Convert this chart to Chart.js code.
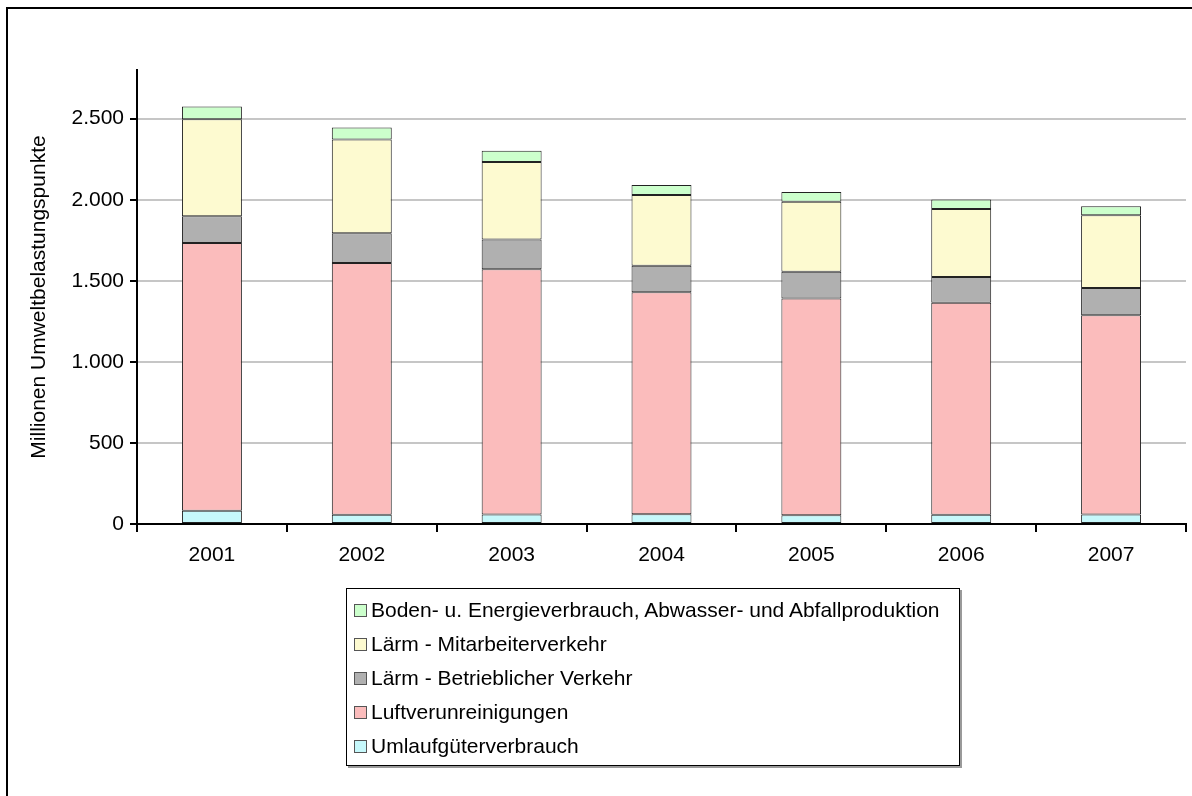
<!DOCTYPE html>
<html>
<head>
<meta charset="utf-8">
<script src="https://cdn.jsdelivr.net/npm/chart.js@4/dist/chart.umd.min.js"></script>
<style>
  html, body { margin: 0; padding: 0; background: #fff; overflow: hidden; }
  body { width: 1192px; height: 796px; position: relative; font-family: "Liberation Sans", Arial, sans-serif; }
  .frame { position: absolute; left: 6px; top: 7px; width: 1300px; height: 900px; border: 2px solid #000; }
  .chart-wrap { position: absolute; left: 0; top: 0; width: 1192px; height: 796px; }
  .legend-box {
    position: absolute; left: 346px; top: 588px; width: 612px; height: 176px;
    border: 1px solid #000; background: #fff; box-shadow: 2px 2px 0 #9a9a9a;
  }
  .legend-row { position: absolute; left: 7px; height: 24px; display: flex; align-items: center; font-size: 21px; color: #000; white-space: nowrap; }
  .legend-swatch { width: 11px; height: 11px; border: 1px solid #555; margin-right: 4px; }
</style>
</head>
<body>
<div class="frame"></div>
<div class="chart-wrap"><canvas id="chart" width="1192" height="796"></canvas></div>
<div class="legend-box" id="legend"></div>
<script>
const years = ['2001', '2002', '2003', '2004', '2005', '2006', '2007'];

// Millionen Umweltbelastungspunkte
const umlaufgueter = [81, 57, 58, 60, 54, 57, 58];
const luft = [1652, 1553, 1513, 1370, 1336, 1307, 1230];
const laermBetrieb = [165, 183, 183, 162, 165, 159, 168];
const laermMitarbeiter = [599, 579, 478, 437, 433, 420, 448];
const bodenEnergie = [78, 74, 70, 62, 59, 59, 55];

const yTicks = [0, 500, 1000, 1500, 2000, 2500];

const series = [
  { label: 'Umlaufgüterverbrauch', data: umlaufgueter, color: '#c6f8fb' },
  { label: 'Luftverunreinigungen', data: luft, color: '#fbbcbc' },
  { label: 'Lärm - Betrieblicher Verkehr', data: laermBetrieb, color: '#b0b0b0' },
  { label: 'Lärm - Mitarbeiterverkehr', data: laermMitarbeiter, color: '#fdfad0' },
  { label: 'Boden- u. Energieverbrauch, Abwasser- und Abfallproduktion', data: bodenEnergie, color: '#ccffcc' },
];

function formatDe(v) {
  return String(v).replace(/\B(?=(\d{3})+(?!\d))/g, '.');
}

const font = { family: '"Liberation Sans", Arial, sans-serif', size: 21 };

new Chart(document.getElementById('chart'), {
  type: 'bar',
  data: {
    labels: years,
    datasets: series.map((s) => ({
      label: s.label,
      data: s.data,
      backgroundColor: s.color,
      borderColor: '#222',
      borderWidth: 1,
      borderSkipped: false,
      categoryPercentage: 1,
      barPercentage: 0.4,
    })),
  },
  options: {
    responsive: false,
    animation: false,
    layout: { padding: { top: 70, right: 6, left: 0, bottom: 0 } },
    plugins: {
      legend: { display: false },
      tooltip: { enabled: false },
    },
    scales: {
      x: {
        stacked: true,
        grid: {
          display: true,
          drawOnChartArea: false,
          offset: true,
          color: '#000',
          lineWidth: 2,
          tickLength: 8,
        },
        border: { display: true, color: '#000', width: 2 },
        ticks: { color: '#000', font, padding: 11, maxRotation: 0 },
        afterFit: (scale) => { scale.height = 272; },
      },
      y: {
        stacked: true,
        min: 0,
        max: 2800,
        afterBuildTicks: (scale) => { scale.ticks = yTicks.map((v) => ({ value: v })); },
        grid: {
          color: '#c6c6c6',
          lineWidth: 2,
          tickColor: '#000',
          tickWidth: 2,
          tickLength: 7,
        },
        border: { display: true, color: '#000', width: 2 },
        ticks: { color: '#000', font, padding: 6, callback: (v) => formatDe(v) },
        title: {
          display: true,
          text: 'Millionen Umweltbelastungspunkte',
          color: '#000',
          font,
          padding: { top: 27, bottom: 4 },
        },
        afterFit: (scale) => { scale.width = 137; },
      },
    },
  },
});

const legend = document.getElementById('legend');
series.slice().reverse().forEach((s, i) => {
  const row = document.createElement('div');
  row.className = 'legend-row';
  row.style.top = (9 + i * 34) + 'px';
  row.innerHTML = `<span class="legend-swatch" style="background:${s.color}"></span><span>${s.label}</span>`;
  legend.appendChild(row);
});
</script>
</body>
</html>
